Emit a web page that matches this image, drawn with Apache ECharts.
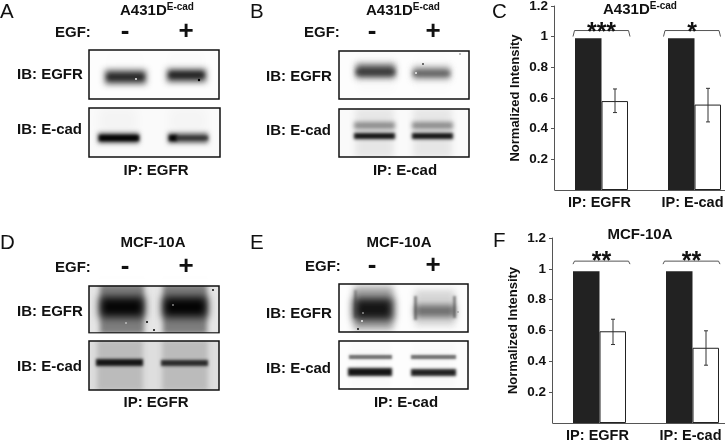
<!DOCTYPE html>
<html><head><meta charset="utf-8">
<style>html,body{margin:0;padding:0;background:#fff}#c{width:725px;height:442px}</style>
<script src="https://cdn.jsdelivr.net/npm/echarts@6/dist/echarts.min.js"></script>
</head><body><div id="c"></div>
<script>
const categories = ['IP: EGFR', 'IP: E-cad'];
const yTicks = [0, 0.2, 0.4, 0.6, 0.8, 1, 1.2];

const cControl = [0.99, 0.99];
const cEgf = [0.58, 0.557];
const cErrLow = [0.505, 0.444];
const cErrHigh = [0.659, 0.663];
const cStars = ['***', '*'];

const fControl = [0.985, 0.985];
const fEgf = [0.595, 0.488];
const fErrLow = [0.509, 0.375];
const fErrHigh = [0.673, 0.598];
const fStars = ['**', '**'];

const FONT = '"Liberation Sans", Arial, sans-serif';
const DARK = '#222';
const AXIS = '#555';

function errSeries(xi, yi, low, high) {
  return {
    type: 'custom', xAxisIndex: xi, yAxisIndex: yi, z: 5, silent: true,
    data: low.map((l, i) => [i, l, high[i]]),
    encode: { x: 0, y: [1, 2] },
    renderItem(params, api) {
      const off = 13.5;
      const cx = api.coord([api.value(0), 0])[0] + off;
      const yl = api.coord([0, api.value(1)])[1];
      const yh = api.coord([0, api.value(2)])[1];
      const style = { stroke: '#333', lineWidth: 1, fill: null };
      return { type: 'group', children: [
        { type: 'line', shape: { x1: cx, y1: yl, x2: cx, y2: yh }, style },
        { type: 'line', shape: { x1: cx - 2, y1: yl, x2: cx + 2, y2: yl }, style },
        { type: 'line', shape: { x1: cx - 2, y1: yh, x2: cx + 2, y2: yh }, style }
      ]};
    }
  };
}
function bracketSeries(xi, yi, level, drop, stars, starDy, shifts) {
  return {
    type: 'custom', xAxisIndex: xi, yAxisIndex: yi, z: 6, silent: true, clip: false,
    data: stars.map((s, i) => [i, level]),
    encode: { x: 0, y: 1 },
    renderItem(params, api) {
      const i = api.value(0);
      const c = api.coord([i, api.value(1)]);
      const cx = c[0] + shifts[i];
      const hw = 28.5;
      return { type: 'group', children: [
        { type: 'polyline', shape: { points: [[cx - hw, c[1] + drop], [cx - hw + 1.5, c[1]], [cx + hw - 1.5, c[1]], [cx + hw, c[1] + drop]] },
          style: { stroke: AXIS, lineWidth: 1, fill: null } },
        { type: 'text', x: cx, y: c[1] + starDy,
          style: { text: stars[i], font: 'bold 25px ' + FONT, fill: '#111', textAlign: 'center', textVerticalAlign: 'middle' } }
      ]};
    }
  };
}
function barSeries(xi, yi, data, color, border) {
  return { type: 'bar', xAxisIndex: xi, yAxisIndex: yi, data, barWidth: 26.5, barGap: '0%', silent: true,
    itemStyle: { color, borderColor: border, borderWidth: color === '#fff' ? 1 : 0 } };
}
function xAx(gi) {
  return { type: 'category', gridIndex: gi, data: categories, boundaryGap: true,
    axisLine: { lineStyle: { color: AXIS, width: 1 } }, axisTick: { show: false },
    axisLabel: { color: '#111', fontFamily: FONT, fontWeight: 'bold', fontSize: 14.5, margin: 5, padding: [0, 4, 0, 0] } };
}
function yAx(gi) {
  return { type: 'value', gridIndex: gi, min: yTicks[0], max: yTicks[yTicks.length - 1], interval: 0.2, offset: 1,
    name: 'Normalized Intensity', nameLocation: 'middle', nameGap: 32,
    nameTextStyle: { color: '#111', fontFamily: FONT, fontWeight: 'bold', fontSize: 13 },
    splitLine: { show: false }, axisLine: { show: true, lineStyle: { color: AXIS, width: 1 } },
    axisTick: { show: true, length: 3, lineStyle: { color: AXIS } },
    axisLabel: { color: '#111', fontFamily: FONT, fontWeight: 'bold', fontSize: 13.5, margin: 6, showMinLabel: false,
      formatter: v => v === 0 ? '' : String(v) } };
}

/* ---------- blot artwork ---------- */
const g = [];
function blur(x, y, w, h, color, b) {
  g.push({ type: 'rect', silent: true, shape: { x: x - 3000, y, width: w, height: h },
    style: { fill: color, shadowColor: color, shadowBlur: b * 1.7, shadowOffsetX: 3000 } });
}
function dot(x, y, color, r) {
  g.push({ type: 'circle', silent: true, shape: { cx: x, cy: y, r: r || 0.8 }, style: { fill: color } });
}
function frame(x, y, w, h, bg) {
  g.push({ type: 'rect', silent: true, shape: { x, y, width: w, height: h }, style: { fill: bg } });
}
function close(x, y, w, h) {
  g.push({ type: 'rect', silent: true, shape: { x: x - 4, y: y - 4, width: w + 8, height: h + 8 }, style: { fill: null, stroke: '#fff', lineWidth: 7 } });
  g.push({ type: 'rect', silent: true, shape: { x, y, width: w, height: h }, style: { fill: null, stroke: '#111', lineWidth: 1.5 } });
}
function lane(x, w, top, bottom, color, b) { blur(x, top, w, bottom - top, color, b); }

// A top
frame(89, 50, 130, 49, '#fdfdfd');
lane(106, 38, 52, 76, 'rgba(0,0,0,0.08)', 5); lane(168, 36, 52, 74, 'rgba(0,0,0,0.1)', 5);
blur(105, 70, 41, 14, 'rgba(70,70,70,0.95)', 3.5); blur(167, 69, 39, 13, 'rgba(70,70,70,0.95)', 3.5);
blur(107, 74, 37, 6, 'rgba(20,20,20,0.85)', 2.5); blur(169, 72, 35, 6, 'rgba(20,20,20,0.9)', 2.5);
dot(136, 79, '#fff', 0.9); dot(199, 80, '#000', 1.2);
close(89, 50, 130, 49);
// A bottom
frame(89, 108, 131, 49, '#fafafa');
lane(99, 38, 108, 134, 'rgba(0,0,0,0.17)', 6); lane(169, 38, 108, 134, 'rgba(0,0,0,0.15)', 6);
blur(98, 133, 41, 10, 'rgba(40,40,40,0.85)', 3); blur(168, 133, 40, 10, 'rgba(70,70,70,0.9)', 3);
blur(99, 135, 40, 6, '#000', 2); blur(169, 135, 8, 6, '#000', 2); blur(176, 136, 32, 4, 'rgba(25,25,25,0.85)', 2);
close(89, 108, 131, 49);

// B top
frame(339, 51, 130, 48, '#fdfdfd');
lane(357, 38, 54, 92, 'rgba(0,0,0,0.13)', 5); lane(414, 36, 54, 92, 'rgba(0,0,0,0.1)', 5);
blur(356, 64, 39, 14, 'rgba(60,60,60,0.9)', 3.5); blur(413, 67, 37, 12, 'rgba(100,100,100,0.85)', 3.5);
blur(356, 69, 39, 6, 'rgba(35,35,35,0.8)', 2.5); blur(413, 71, 37, 5, 'rgba(60,60,60,0.75)', 2.5);
dot(416, 73, '#eee', 1); dot(423, 64, '#444', 1); dot(460, 54, '#666', 0.8);
close(339, 51, 130, 48);
// B bottom
frame(339, 109, 130, 48, '#fafafa');
lane(355, 39, 108, 158, 'rgba(0,0,0,0.28)', 4); lane(413, 39, 108, 158, 'rgba(0,0,0,0.28)', 4);
blur(354, 122, 41, 7, 'rgba(70,70,70,0.75)', 2.5); blur(412, 122, 41, 7, 'rgba(70,70,70,0.75)', 2.5);
blur(354, 133, 41, 6, 'rgba(5,5,5,0.98)', 2); blur(412, 133, 41, 6, 'rgba(5,5,5,0.98)', 2);
close(339, 109, 130, 48);

// D top
frame(89, 286, 130, 47, '#e6e6e6');
lane(100, 44, 284, 334, 'rgba(85,85,85,0.85)', 3); lane(163, 44, 284, 334, 'rgba(85,85,85,0.85)', 3);
blur(100, 297, 44, 20, 'rgba(0,0,0,0.98)', 5); blur(163, 297, 44, 20, 'rgba(0,0,0,0.99)', 5);
dot(147, 322, '#000', 1); dot(154, 330, '#000', 1); dot(213, 290, '#111', 1); dot(126, 323, '#eee', .8); dot(173, 305, '#ddd', .8);
close(89, 286, 130, 47);
// D bottom
frame(89, 341, 130, 49, '#dedede');
lane(97, 46, 340, 391, 'rgba(140,140,140,0.65)', 3); lane(162, 46, 340, 391, 'rgba(140,140,140,0.65)', 3);
blur(96, 359, 47, 7, 'rgba(15,15,15,0.98)', 1.8); blur(161, 360, 47, 6, 'rgba(25,25,25,0.95)', 1.8);
close(89, 341, 130, 49);

// E top
frame(339, 284, 129, 48, '#fdfdfd');
lane(354, 39, 286, 330, 'rgba(85,85,85,0.7)', 4); lane(415, 40, 290, 326, 'rgba(125,125,125,0.55)', 4);
blur(354, 298, 39, 22, 'rgba(5,5,5,0.95)', 5); blur(415, 305, 40, 12, 'rgba(70,70,70,0.85)', 3.5);
blur(354, 290, 3, 28, 'rgba(30,30,30,.6)', 1.5); blur(453, 296, 3, 22, 'rgba(30,30,30,.7)', 1.5); blur(414, 296, 3, 24, 'rgba(30,30,30,.7)', 1.5);
dot(358, 329, '#111', 1); dot(362, 321, '#eee', 1); dot(363, 313, '#ddd', .8); dot(458, 312, '#888', .8);
close(339, 284, 129, 48);
// E bottom
frame(339, 341, 129, 48, '#fdfdfd');
blur(350, 343, 41, 44, 'rgba(0,0,0,0.12)', 3); blur(412, 343, 43, 44, 'rgba(0,0,0,0.12)', 3);
blur(349, 355, 43, 4, 'rgba(70,70,70,0.9)', 1.5); blur(411, 355, 45, 4, 'rgba(70,70,70,0.9)', 1.5);
blur(348, 368, 44, 8, 'rgba(5,5,5,0.97)', 1.8); blur(411, 369, 45, 7, 'rgba(10,10,10,0.95)', 1.8);
close(339, 341, 129, 48);

/* ---------- text ---------- */
function txt(s, x, y, size, weight, align) {
  g.push({ type: 'text', silent: true, x, y, style: { text: s, font: (weight || 'bold') + ' ' + size + 'px ' + FONT, fill: '#111',
    textAlign: align || 'left', textVerticalAlign: 'middle' } });
}
function supTitle(x, y) {
  g.push({ type: 'text', silent: true, x, y, style: { text: '{a|A431D}{b|E-cad}', textAlign: 'center', textVerticalAlign: 'middle', fill: '#111',
    rich: { a: { font: 'bold 15px ' + FONT, fill: '#111', height: 16, verticalAlign: 'bottom' },
            b: { font: 'bold 10px ' + FONT, fill: '#111', height: 9, verticalAlign: 'top' } } } });
}
[['A', 0, 12], ['B', 250, 12], ['C', 492, 12], ['D', 0, 243], ['E', 250, 243], ['F', 493, 241]]
  .forEach(a => txt(a[0], a[1], a[2], 20.5, 'normal'));

supTitle(157, 10.5); supTitle(403, 10.5); supTitle(640, 9.5);
txt('MCF-10A', 153, 243, 15, 'bold', 'center');
txt('MCF-10A', 399, 243, 15, 'bold', 'center');
txt('MCF-10A', 640, 235, 15, 'bold', 'center');

[[55, 33, 125, 186], [304, 33, 372, 433], [55, 268, 125, 186], [305, 267, 372, 433]].forEach(e => {
  txt('EGF:', e[0], e[1], 15);
  txt('-', e[2], e[1] - 1, 26, 'bold', 'center');
  txt('+', e[3], e[1] - 1, 26, 'bold', 'center');
});
[[17, 75, 130], [266, 77, 131], [17, 312, 367], [266, 314, 369]].forEach(l => {
  txt('IB: EGFR', l[0], l[1], 15);
  txt('IB: E-cad', l[0], l[2], 15);
});
txt('IP: EGFR', 156, 171, 15, 'bold', 'center');
txt('IP: E-cad', 405, 171, 15, 'bold', 'center');
txt('IP: EGFR', 156, 403, 15, 'bold', 'center');
txt('IP: E-cad', 406, 403, 15, 'bold', 'center');

const chart = echarts.init(document.getElementById('c'), null, { renderer: 'canvas' });
chart.setOption({
  animation: false,
  backgroundColor: '#fff',
  grid: [
    { left: 555, top: 6, width: 186, height: 184, outerBoundsMode: 'none' },
    { left: 553, top: 238, width: 186, height: 185, outerBoundsMode: 'none' }
  ],
  xAxis: [xAx(0), xAx(1)],
  yAxis: [yAx(0), yAx(1)],
  graphic: { elements: g },
  series: [
    barSeries(0, 0, cControl, DARK, DARK),
    barSeries(0, 0, cEgf, '#fff', DARK),
    errSeries(0, 0, cErrLow, cErrHigh),
    bracketSeries(0, 0, 1.04, 6, cStars, 3, [0, -2.5]),
    barSeries(1, 1, fControl, DARK, DARK),
    barSeries(1, 1, fEgf, '#fff', DARK),
    errSeries(1, 1, fErrLow, fErrHigh),
    bracketSeries(1, 1, 1.05, 3, fStars, 1, [2, -1])
  ]
});
</script></body></html>
